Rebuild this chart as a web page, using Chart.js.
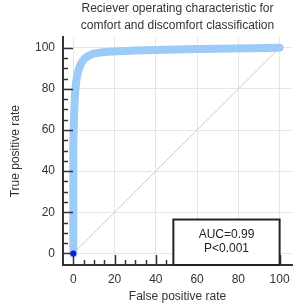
<!DOCTYPE html>
<html>
<head>
<meta charset="utf-8">
<script src="https://cdn.jsdelivr.net/npm/chart.js@4"></script>
<style>
  html, body { margin: 0; padding: 0; background: #fff; }
  #wrap { width: 300px; height: 305px; }
</style>
</head>
<body>
<div id="wrap"><canvas id="rocChart" width="300" height="305"></canvas></div>
<script>
// ROC curve values (percent)
var fpr = [0, 0, 0, 0, 0.3, 0.7, 1.2, 2, 3, 4.5, 6.5, 9, 13, 20, 30, 40, 55, 70, 85, 100];
var tpr = [0, 20, 40, 55, 65, 75, 82, 87, 90.5, 93.5, 95.5, 96.8, 97.6, 98.2, 98.6, 98.9, 99.2, 99.5, 99.7, 100];
var diagX = [0, 100];
var diagY = [0, 100];
var tickValues = [0, 20, 40, 60, 80, 100];
var statLines = ["AUC=0.99", "P<0.001"];
var titleLines = ["Reciever operating characteristic for", "comfort and discomfort classification"];

var rocPoints = [];
for (var i in fpr) {
  rocPoints.push({x: fpr[i], y: tpr[i]});
}
var diagPoints = [];
for (var j in diagX) {
  diagPoints.push({x: diagX[j], y: diagY[j]});
}

var textColor = "#333";
var fontFam = "Arial, 'Liberation Sans', Helvetica, sans-serif";

// inward tick marks + AUC box, placed through the chart scales
var extras = {
  id: "extras",
  afterDatasetsDraw: function(chart) {
    var ctx = chart.ctx;
    var xs = chart.scales.x, ys = chart.scales.y;
    var area = chart.chartArea;
    ctx.save();
    ctx.strokeStyle = "#333";
    ctx.lineWidth = 1.5;
    for (var v = 0; v <= 100; v += 5) {
      var len = (v % 20 === 0) ? 10 : 5;
      var py = Math.round(ys.getPixelForValue(v)) + 0.5;
      ctx.beginPath();
      ctx.moveTo(area.left, py);
      ctx.lineTo(area.left + len, py);
      ctx.stroke();
      var px = Math.round(xs.getPixelForValue(v)) + 0.5;
      ctx.beginPath();
      ctx.moveTo(px, area.bottom);
      ctx.lineTo(px, area.bottom - len);
      ctx.stroke();
    }
    // stats box
    var bx1 = xs.getPixelForValue(48.5), bx2 = xs.getPixelForValue(100);
    var by1 = ys.getPixelForValue(16.5), by2 = area.bottom;
    ctx.fillStyle = "#fff";
    ctx.fillRect(bx1, by1, bx2 - bx1, by2 - by1);
    ctx.lineWidth = 2;
    ctx.strokeStyle = "#222";
    ctx.strokeRect(bx1, by1, bx2 - bx1, by2 - by1);
    ctx.fillStyle = "#222";
    ctx.font = "12px " + fontFam;
    ctx.textAlign = "center";
    ctx.textBaseline = "middle";
    var cx = (bx1 + bx2) / 2;
    ctx.fillText(statLines[0], cx, by1 + 15);
    ctx.fillText(statLines[1], cx, by1 + 29);
    ctx.restore();
  }
};

var ctxEl = document.getElementById("rocChart");
var rocChart = new Chart(ctxEl, {
  type: "line",
  data: {
    datasets: [
      {
        data: [{x: 0, y: 0}],
        showLine: false,
        pointRadius: 3,
        pointBackgroundColor: "#0a14e6",
        pointBorderWidth: 0,
        order: 0
      },
      {
        data: rocPoints,
        borderColor: "#9ccbf8",
        borderWidth: 8,
        borderCapStyle: "round",
        borderJoinStyle: "round",
        pointRadius: 0,
        tension: 0.3,
        cubicInterpolationMode: "monotone",
        fill: false,
        order: 1
      },
      {
        data: diagPoints,
        borderColor: "#dcc4c6",
        borderWidth: 1,
        pointRadius: 0,
        fill: false,
        order: 2
      }
    ]
  },
  options: {
    responsive: false,
    animation: false,
    layout: { padding: { left: 8, right: 8, top: 0, bottom: 0 } },
    plugins: {
      legend: { display: false },
      tooltip: { enabled: false },
      title: {
        display: true,
        text: titleLines,
        fullSize: false,
        color: textColor,
        font: { family: fontFam, size: 12, weight: "normal", lineHeight: 1.35 },
        padding: { top: 1, bottom: 4 }
      }
    },
    scales: {
      x: {
        type: "linear",
        min: -5,
        max: 106,
        afterBuildTicks: function(scale) {
          scale.ticks = tickValues.map(function(v) { return {value: v}; });
        },
        afterFit: function(scale) { scale.height = 40; },
        grid: { color: "#e6e6e6", drawTicks: false },
        border: { color: "#333", width: 2 },
        ticks: { color: textColor, padding: 7, maxRotation: 0, font: { family: fontFam, size: 12 } },
        title: { display: true, text: "False positive rate", color: textColor, padding: { top: 0, bottom: 1 },
                 font: { family: fontFam, size: 12 } }
      },
      y: {
        type: "linear",
        min: -5.6,
        max: 105,
        afterBuildTicks: function(scale) {
          scale.ticks = tickValues.map(function(v) { return {value: v}; });
        },
        afterFit: function(scale) { scale.width = 55; },
        grid: { color: "#e6e6e6", drawTicks: false },
        border: { color: "#333", width: 2 },
        ticks: { color: textColor, padding: 8, font: { family: fontFam, size: 12 } },
        title: { display: true, text: "True positive rate", color: textColor, padding: 0,
                 font: { family: fontFam, size: 12 } }
      }
    }
  },
  plugins: [extras]
});
</script>
</body>
</html>
